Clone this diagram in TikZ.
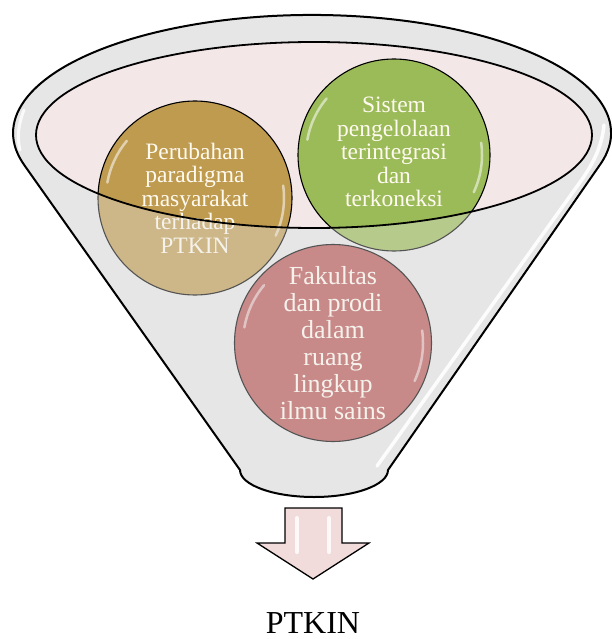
\documentclass[tikz,border=0pt]{standalone}
\usepackage{fontspec}
\setmainfont{Liberation Serif}
\definecolor{bodygray}{HTML}{E6E6E6}
\definecolor{ellpink}{HTML}{F4E7E8}
\definecolor{tanc}{HTML}{BF9B50}
\definecolor{greenc}{HTML}{9BBB59}
\definecolor{pinkc}{HTML}{B85454}
\definecolor{arrowpink}{HTML}{F2DCDB}
\definecolor{txtc}{HTML}{FFFAF0}
\begin{document}
\begin{tikzpicture}[x=1pt,y=1pt,
  bubble/.style={circle, draw=black, line width=1.1pt, inner sep=0pt},
  btext/.style={align=center, text=txtc, inner sep=0pt, font=\fontsize{23.5}{23.5}\selectfont},
  bigtext/.style={align=center, text=txtc, inner sep=0pt, font=\fontsize{26}{27}\selectfont},
  gloss/.style={white, line width=2.5pt, line cap=round, opacity=0.55},
  outline/.style={black, line width=2pt, line join=round},
]
\useasboundingbox (0,0) rectangle (612,-639);
% funnel body
\fill[bodygray] (24,-164.7) -- (240,-470) arc[start angle=180, end angle=360, x radius=74, y radius=27]
  -- (600,-164.7) arc[start angle=-15.6, end angle=195.6, x radius=299, y radius=118] -- cycle;
% inner opening
\fill[ellpink] (314,-135) ellipse (278 and 93);
% circles
\node[bubble, fill=tanc, minimum size=194pt] (c1) at (195,-198) {};
\node[bubble, fill=greenc, minimum size=192pt] (c2) at (394,-155) {};
\node[bubble, fill=pinkc, minimum size=197pt] (c3) at (333,-343) {};
% gloss on circles
\foreach \c/\r in {c1/89, c2/88, c3/90}{
  \draw[gloss] ([shift={(\c.center)}]140:\r) arc[start angle=140, end angle=170, radius=\r];
  \draw[gloss] ([shift={(\c.center)}]-25:\r) arc[start angle=-25, end angle=8, radius=\r];
}
% texts
\node[btext] (t1) at (195,-198) {Perubahan\\paradigma\\masyarakat\\terhadap\\PTKIN};
\node[btext] (t2) at (394,-152) {Sistem\\pengelolaan\\terintegrasi\\dan\\terkoneksi};
\node[bigtext] (t3) at (333,-343) {Fakultas\\dan prodi\\dalam\\ruang\\lingkup\\ilmu sains};
% front of funnel (semi transparent)
\fill[bodygray, opacity=0.37, even odd rule] (24,-164.7) -- (240,-470) arc[start angle=180, end angle=360, x radius=74, y radius=27]
  -- (600,-164.7) arc[start angle=-15.6, end angle=195.6, x radius=299, y radius=118] -- cycle
  (314,-135) ellipse (278 and 93);
% highlights of funnel
\draw[white, line width=3.5pt, line cap=round, opacity=0.9] (377,-466) -- (583,-178) .. controls (595,-160) and (602,-145) .. (604,-125);
\draw[white, line width=3pt, line cap=round, opacity=0.8] (20,-150) .. controls (17,-138) and (18,-125) .. (24,-110);
% outlines
\draw[black, line width=1.8pt] (314,-135) ellipse (278 and 93);
\draw[outline] (24,-164.7) -- (240,-470) arc[start angle=180, end angle=360, x radius=74, y radius=27]
  -- (600,-164.7) arc[start angle=-15.6, end angle=195.6, x radius=299, y radius=118] -- cycle;
% output arrow
\draw[draw=black, fill=arrowpink, line width=1.3pt, line join=miter]
  (285,-508) -- (342,-508) -- (342,-543) -- (369,-543) -- (313,-579) -- (257,-543) -- (285,-543) -- cycle;
\draw[white, line width=4pt, line cap=round, opacity=0.85] (297,-518) -- (297,-552);
\draw[white, line width=4pt, line cap=round, opacity=0.85] (329,-518) -- (329,-552);
\node[inner sep=0pt, font=\fontsize{32}{34}\selectfont] (out) at (313,-623) {PTKIN};
\end{tikzpicture}
\end{document}
